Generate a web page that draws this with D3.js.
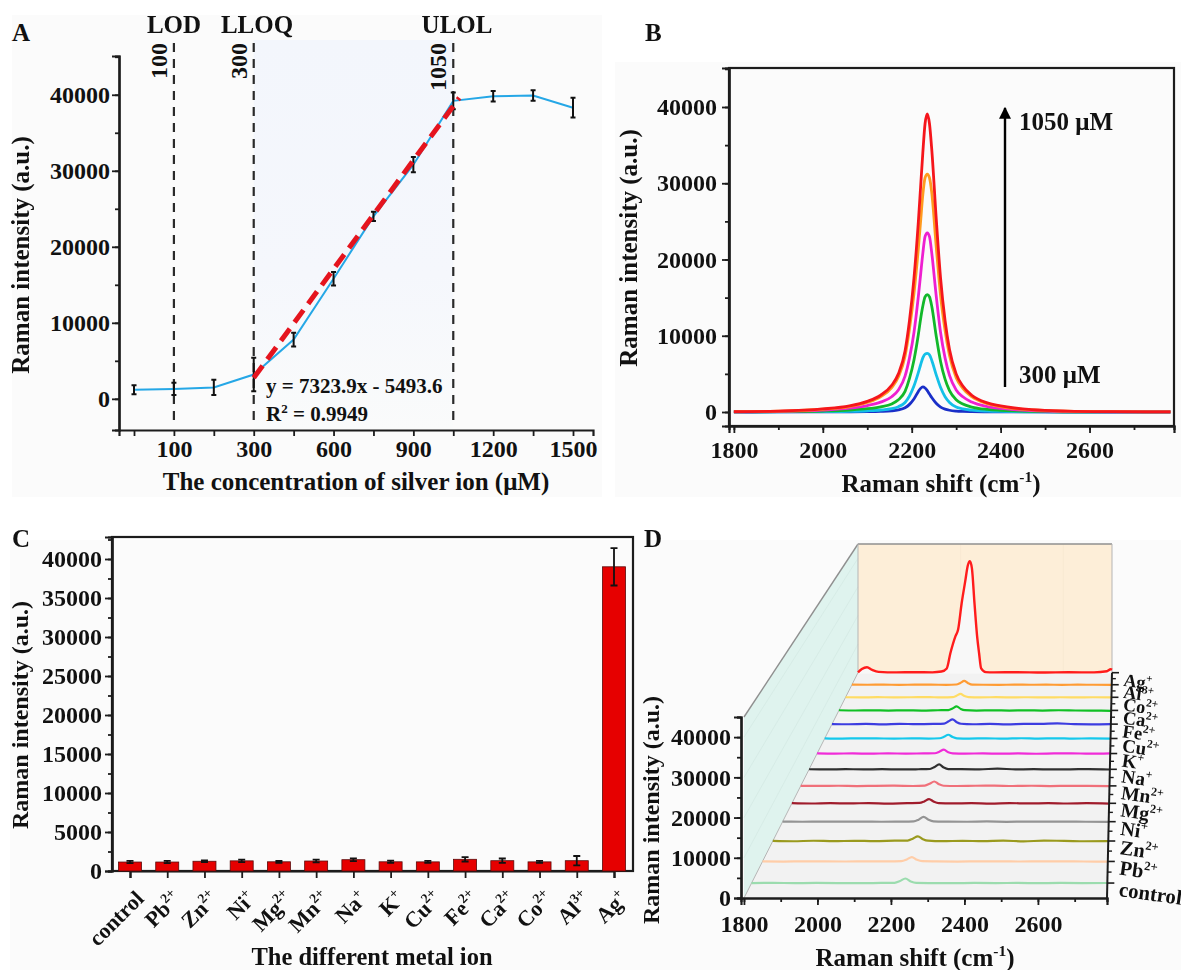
<!DOCTYPE html>
<html><head><meta charset="utf-8">
<script src="https://cdn.jsdelivr.net/npm/d3@7"></script>
<style>
html,body{margin:0;padding:0;background:#fff;overflow:hidden}
svg{display:block;filter:blur(.45px)}
text{font-family:"Liberation Serif",serif;font-weight:700;fill:#111}
</style></head><body>
<svg id="c" width="1181" height="970"></svg>
<script>
// ---------- Panel A data
const concentrations=[50,100,200,300,450,600,750,900,1050,1200,1350,1500];
const intensityA=[1200,1300,1500,3200,7800,15800,24000,30800,39200,39800,39900,38300];
const errorA=[600,800,1000,2200,900,900,600,1000,1100,700,700,1300];
const labelledA=[100,300,600,900,1200,1500];
const limitConc=[100,300,1050];
const limitNames=["LOD","LLOQ","ULOL"];
const fitIndex=[3,8.15];
const fitValue=[2760,39600];
// ---------- Panel B data
const shiftB=[1800,1900,2000,2060,2100,2130,2155,2170,2185,2195,2205,2215,2220,2225,2230,2235,2240,2245,2255,2265,2275,2285,2300,2315,2335,2370,2400,2470,2550,2650,2782];
const b300=[0,5,15,30,50,90,160,280,560,1000,1700,2700,3100,3300,3150,2800,2350,1900,1150,650,380,230,120,70,40,20,10,5,0,0,0];
const b450=[5,15,50,90,160,260,430,700,1250,2100,3400,5200,6200,7100,7600,7700,7500,6800,4900,3200,2000,1250,650,400,240,120,70,25,10,5,0];
const b600=[15,40,130,260,430,680,1050,1600,2700,4400,6800,10200,12200,13900,15100,15400,15100,13900,10000,6600,4300,2800,1600,1050,650,340,220,80,30,10,5];
const b750=[25,80,260,500,850,1300,2000,2900,4700,7100,10400,15200,18000,20800,23000,23500,23000,20900,15300,10400,7100,4800,2900,2000,1300,720,470,180,70,30,10];
const b900=[35,110,360,720,1260,2000,3200,4600,7300,10900,15500,21500,25000,28500,30700,31200,30700,28800,21800,15200,10700,7400,4500,3100,2000,1100,700,270,110,45,15];
const b1050=[40,120,400,800,1400,2200,3500,5000,8000,12000,17500,25000,29500,34000,37800,39100,37800,34500,25500,17500,12000,8200,5000,3400,2200,1200,800,300,120,50,20];
const seriesB=[b300,b450,b600,b750,b900,b1050];
const colorsB=["#1a2fc8","#14c0e8","#12b82a","#ee1fd0","#ff9a1e","#f5161c"];
// ---------- Panel C data
const ions=["control","Pb2+","Zn2+","Ni+","Mg2+","Mn2+","Na+","K+","Cu2+","Fe2+","Ca2+","Co2+","Al3+","Ag+"];
const barValues=[1150,1150,1250,1300,1180,1280,1450,1180,1170,1500,1320,1170,1320,39000];
const barErrors=[150,150,120,170,120,170,180,140,130,280,280,120,600,2400];
// ---------- Panel D data
const shiftD=[1800,1860,1920,1980,2040,2100,2160,2198,2213,2228,2243,2258,2300,2360,2420,2480,2540,2600,2660,2720,2790];
const dControl=[0,40,-20,30,0,-30,30,60,500,1150,400,40,0,-20,30,0,20,-20,30,0,10];
const dPb=[20,-30,30,0,-20,40,0,80,480,1150,420,60,10,-30,20,30,-20,10,20,-20,-30];
const dZn=[30,-60,70,-40,60,-30,80,120,620,1250,500,90,-50,60,-40,90,-70,80,50,-60,-40];
const dNi=[10,-20,20,-10,30,-20,10,80,560,1300,520,100,20,-20,60,-30,20,-10,30,-20,-30];
const dMg=[60,-50,50,-40,70,-60,60,110,520,1180,480,80,-40,50,-60,60,-40,50,-50,40,-90];
const dMn=[30,-20,40,-50,30,60,-30,90,600,1280,480,40,-30,40,70,-30,40,-40,30,-20,-50];
const dNa=[20,-40,30,-20,40,-30,20,100,700,1450,540,60,30,-20,220,-20,30,-30,-10,70,-60];
const dK=[40,-30,50,-50,60,-40,50,90,560,1180,420,70,-30,50,-50,40,-60,30,70,-40,60];
const dCu=[50,-40,60,30,-50,40,-30,80,520,1170,440,60,-40,50,-60,70,-40,60,-50,40,-20];
const dFe=[30,-40,50,-60,100,-30,60,180,850,1500,620,120,-40,70,-60,50,80,260,-30,-50,20];
const dCa=[60,-30,40,-50,30,-40,50,110,640,1320,500,90,-60,40,-50,30,-40,50,-30,-80,-120];
const dCo=[10,-20,30,-20,10,30,-10,60,520,1170,420,50,-20,30,-10,20,-30,10,-20,10,0];
const dAl=[20,-10,20,-30,10,20,-20,80,620,1320,540,60,0,-20,20,-10,20,-20,10,-10,-20];
const shiftAg=[1800,1815,1835,1855,1880,1950,2020,2090,2125,2146,2160,2180,2190,2204,2218,2228,2236,2244,2254,2264,2272,2280,2298,2330,2420,2520,2620,2720,2770,2785,2790];
const dAg=[150,1300,1900,1000,300,100,180,120,400,1500,6800,12800,15000,24300,32000,37500,39000,36500,24300,13000,6800,1500,200,100,180,60,160,100,500,1200,1000];
const seriesD=[dControl,dPb,dZn,dNi,dMg,dMn,dNa,dK,dCu,dFe,dCa,dCo,dAl];
const colorsD=["#9bdcae","#ffcda8","#9a9a1e","#949494","#a01c2c","#f0707a","#303030","#f02cd8","#14c8ec","#3c3ce0","#10c024","#ffdc64","#ff9c34","#ff1c1c"];
const labelsXB=[1800,2000,2200,2400,2600];

const svg=d3.select("#c");
const defs=svg.append("defs");
const INK="#1c1c1c", TICK=24, TITLE=25;

function rich(sel,parts,size){
  sel.text(null);
  let wasSup=false;
  parts.forEach(p=>{
    const sup=Array.isArray(p), s=sup?p[0]:p;
    const t=sel.append("tspan").text(s);
    if(sup) t.attr("font-size",size*.62).attr("dy",-size*.4);
    else if(wasSup) t.attr("dy",size*.4);
    wasSup=sup;
  });
}
function label(x,y,str,size,anchor,rot){
  const t=svg.append("text").attr("font-size",size).attr("text-anchor",anchor||"middle")
    .attr("transform",`translate(${x},${y})`+(rot?` rotate(${rot})`:""));
  if(Array.isArray(str)) rich(t,str,size); else t.text(str);
  return t;
}
function ionParts(n){const m=n.match(/^([A-Za-z]+)(\d?\+)$/);return m?[m[1],[m[2]]]:[n];}
function drawAxis(gen,tx,ty,size){
  const g=svg.append("g").attr("transform",`translate(${tx},${ty})`).call(gen);
  g.selectAll("path").attr("stroke",INK).attr("stroke-width",2.2);
  g.selectAll("line").attr("stroke",INK).attr("stroke-width",1.8);
  g.selectAll("text").attr("font-size",size||TICK).attr("font-family",'"Liberation Serif",serif').attr("fill","#111");
  g.attr("font-family",null).attr("font-size",null);
  return g;
}
function minors(dom,step){const r=[];for(let v=Math.ceil(dom[0]/step)*step;v<=dom[1];v+=step)r.push(v);return r;}

// panel backdrops
[[12,15,590,482],[615,62,566,435],[10,540,632,430],[612,540,569,430]].forEach(r=>
  svg.append("rect").attr("x",r[0]).attr("y",r[1]).attr("width",r[2]).attr("height",r[3]).attr("fill","#fbfbfb"));

// ================= A
const xA=d3.scaleLinear().domain([0,11]).range([134,573]);
const posA=c=>xA(concentrations.indexOf(c));
const yA=d3.scaleLinear().domain([-4100,45100]).range([430,56]);
const grad=defs.append("linearGradient").attr("id","shade").attr("x1",0).attr("x2",0).attr("y1",0).attr("y2",1);
grad.append("stop").attr("offset",0).attr("stop-color","#f3f6fc");
grad.append("stop").attr("offset",.6).attr("stop-color","#f5f7fc");
grad.append("stop").attr("offset",1).attr("stop-color","#fafbfb");
svg.append("rect").attr("x",posA(300)).attr("y",40).attr("width",posA(1050)-posA(300)).attr("height",390).attr("fill","url(#shade)");
drawAxis(d3.axisLeft(yA).tickValues(minors(yA.domain(),5000)).tickSize(4).tickFormat(""),119,0);
drawAxis(d3.axisLeft(yA).tickValues(d3.range(0,40001,10000)).tickSize(7).tickPadding(2).tickFormat(d=>d),119,0);
const xAxisScale=d3.scaleLinear().domain([xA.invert(119),xA.invert(593)]).range([119,593]);
drawAxis(d3.axisBottom(xAxisScale).tickValues(concentrations.map((c,i)=>i)).tickSize(6).tickPadding(4)
  .tickFormat(i=>labelledA.includes(concentrations[i])?concentrations[i]:""),0,430);
limitConc.forEach(c=>svg.append("line").attr("x1",posA(c)).attr("x2",posA(c)).attr("y1",43).attr("y2",424)
  .attr("stroke","#2a2a2a").attr("stroke-width",2.2).attr("stroke-dasharray","9 7"));
svg.append("path").attr("d",d3.line().x((d,i)=>xA(i)).y(d=>yA(d))(intensityA)).attr("fill","none").attr("stroke","#25a7e6").attr("stroke-width",2);
intensityA.forEach((v,i)=>{
  const x=xA(i),t=yA(v+errorA[i]),b=yA(v-errorA[i]);
  svg.append("path").attr("d",`M${x-2.5},${t}H${x+2.5}M${x},${t}V${b}M${x-2.5},${b}H${x+2.5}`).attr("stroke","#111").attr("stroke-width",2).attr("fill","none");
});
svg.append("line").attr("x1",xA(fitIndex[0])).attr("x2",xA(fitIndex[1])).attr("y1",yA(fitValue[0])).attr("y2",yA(fitValue[1]))
  .attr("stroke","#e5141e").attr("stroke-width",5).attr("stroke-dasharray","15 8");
label(12,41,"A",25,"start");
limitNames.forEach((n,i)=>label([174,257,457][i],33,n,25));
limitConc.forEach((c,i)=>label(posA(c)-7,43,String(c),24,"end",-90));
label(22,255,"Raman intensity (a.u.)",TITLE,"middle",-90).attr("dy",7);
label(356,490,"The concentration of silver ion (μM)",25);
label(266,393,"y = 7323.9x - 5493.6",21,"start");
label(266,421,["R",["2"]," = 0.9949"],21,"start");

// ================= B
const xB=d3.scaleLinear().domain([1789,2790]).range([729,1174]);
const yB=d3.scaleLinear().domain([-1836,45115]).range([426,68]);
svg.append("rect").attr("x",729).attr("y",68).attr("width",445).attr("height",358).attr("fill","none").attr("stroke",INK).attr("stroke-width",2.2);
drawAxis(d3.axisLeft(yB).tickValues(minors(yB.domain(),5000)).tickSize(4).tickFormat(""),729,0);
drawAxis(d3.axisLeft(yB).tickValues(d3.range(0,40001,10000)).tickSize(7).tickPadding(5).tickFormat(d=>d),729,0);
drawAxis(d3.axisBottom(xB).tickValues(d3.range(1800,2701,100)).tickSize(4).tickFormat(""),0,426);
drawAxis(d3.axisBottom(xB).tickValues(labelsXB).tickSize(7).tickPadding(8).tickFormat(d=>d),0,426);
const lineB=d3.line().x((d,i)=>xB(shiftB[i])).y(d=>yB(d)).curve(d3.curveMonotoneX);
seriesB.forEach((s,k)=>svg.append("path").attr("d",lineB(s)).attr("fill","none").attr("stroke",colorsB[k]).attr("stroke-width",2.8));
defs.append("marker").attr("id","ah").attr("viewBox","0 0 10 10").attr("refX",9).attr("refY",5)
  .attr("markerWidth",5).attr("markerHeight",5).attr("orient","auto").append("path").attr("d","M0,0L10,5L0,10Z").attr("fill","#000");
svg.append("line").attr("x1",1005).attr("x2",1005).attr("y1",387).attr("y2",108).attr("stroke","#000").attr("stroke-width",2.4).attr("marker-end","url(#ah)");
label(1019,130,"1050 μM",25,"start");
label(1019,383,"300 μM",25,"start");
label(645,41,"B",25,"start");
label(630,248,"Raman intensity (a.u.)",TITLE,"middle",-90).attr("dy",7);
label(941,492,["Raman shift (cm",["-1"],")"],25);

// ================= C
const xC=d3.scalePoint().domain(ions).range([130,614]);
const yC=d3.scaleLinear().domain([0,42820]).range([871,537]);
svg.append("rect").attr("x",112).attr("y",537).attr("width",521).attr("height",334).attr("fill","none").attr("stroke",INK).attr("stroke-width",2.2);
drawAxis(d3.axisLeft(yC).tickValues(minors(yC.domain(),2500)).tickSize(4).tickFormat(""),112,0);
drawAxis(d3.axisLeft(yC).tickValues(d3.range(0,40001,5000)).tickSize(7).tickPadding(3).tickFormat(d=>d),112,0);
drawAxis(d3.axisBottom(xC).tickSize(7).tickFormat(""),0,871);
ions.forEach((n,i)=>{
  const x=xC(n),bw=23;
  svg.append("rect").attr("x",x-bw/2).attr("y",yC(barValues[i])).attr("width",bw).attr("height",yC(0)-yC(barValues[i]))
    .attr("fill","#e60000").attr("stroke","#5a0a0a").attr("stroke-width",.8);
  const t=yC(barValues[i]+barErrors[i]),b=yC(barValues[i]-barErrors[i]);
  svg.append("path").attr("d",`M${x-3.5},${t}H${x+3.5}M${x},${t}V${b}M${x-3.5},${b}H${x+3.5}`).attr("stroke","#111").attr("stroke-width",1.8).attr("fill","none");
  label(x+15,900,ionParts(n),22,"end",-45);
});
label(12,547,"C",25,"start");
label(21,715,"Raman intensity (a.u.)",24,"middle",-90).attr("dy",7);
label(372,965,"The different metal ion",24.5);

// ================= D  (simple perspective box)
const xFront=d3.scaleLinear().domain([1800,2790]).range([744,1107]);
const xBack=d3.scaleLinear().domain([1800,2790]).range([858,1112]);
const yFront=d3.scaleLinear().domain([0,45000]).range([898,717]);
const yBack=d3.scaleLinear().domain([0,45000]).range([672.7,544]);
const persp=t=>t*3.5/(t+2.5);
const depth=i=>persp((i+.66)/13.66);
const mix=d3.interpolateNumber;
const proj=(s,t,v)=>[mix(xFront(s),xBack(s))(t),mix(yFront(v),yBack(v))(t)];
const poly=(pts,fill,stroke)=>svg.append("path").attr("d",d3.line()(pts)+"Z").attr("fill",fill).attr("stroke",stroke||"none").attr("stroke-width",1);
poly([proj(2790,1,0),proj(1800,1,0),proj(1800,0,0),proj(2790,0,0)],"#f2f2f2");
poly([proj(1800,0,0),proj(1800,0,45000),proj(1800,1,45000),proj(1800,1,0)],"#dff3ee");
poly([proj(1800,1,0),proj(1800,1,45000),proj(2790,1,45000),proj(2790,1,0)],"#fdeed8");
// faint wall grid
[10000,20000,30000,40000].forEach(v=>{
  const a=proj(1800,0,v),b=proj(1800,1,v);
  svg.append("line").attr("x1",a[0]).attr("y1",a[1]).attr("x2",b[0]).attr("y2",b[1]).attr("stroke","#d2e8e2").attr("stroke-width",.7);
});
[2200,2600].forEach(s=>{
  const a=proj(s,1,0),b=proj(s,1,45000);
  svg.append("line").attr("x1",a[0]).attr("y1",a[1]).attr("x2",b[0]).attr("y2",b[1]).attr("stroke","#f6e6d0").attr("stroke-width",.7);
});
// under-peak cut-out on the back wall
const ag=shiftAg.map((s,i)=>proj(s,1,dAg[i]));
const curveD=d3.curveMonotoneX;
svg.append("path").attr("d",d3.area().x(d=>d[0]).y0(proj(1800,1,0)[1]+1).y1(d=>d[1]).curve(curveD)(ag)).attr("fill","#f8f8f8");
// box edges
[[proj(1800,0,45000),proj(1800,1,45000)],[proj(1800,1,45000),proj(2790,1,45000)]].forEach(p=>
  svg.append("line").attr("x1",p[0][0]).attr("y1",p[0][1]).attr("x2",p[1][0]).attr("y2",p[1][1]).attr("stroke","#8f8f8f").attr("stroke-width",1.4));
[[proj(1800,0,0),proj(1800,1,0)],[proj(1800,1,0),proj(1800,1,45000)],[proj(2790,1,0),proj(2790,1,45000)]].forEach(p=>
  svg.append("line").attr("x1",p[0][0]).attr("y1",p[0][1]).attr("x2",p[1][0]).attr("y2",p[1][1]).attr("stroke","#b5b5b5").attr("stroke-width",1));
// traces
seriesD.forEach((s,i)=>{
  const t=depth(i);
  svg.append("path").attr("d",d3.line().curve(curveD)(s.map((v,j)=>proj(shiftD[j],t,v)))).attr("fill","none").attr("stroke",colorsD[i]).attr("stroke-width",2.2);
});
svg.append("path").attr("d",d3.line().curve(curveD)(ag)).attr("fill","none").attr("stroke",colorsD[13]).attr("stroke-width",2.4);
// front axes
const xAxisD=d3.scaleLinear().domain([1792,2788]).range([741,1107]);
drawAxis(d3.axisLeft(yFront).tickValues(minors([0,45000],5000)).tickSize(4).tickFormat(""),741,0);
drawAxis(d3.axisLeft(yFront).tickValues(d3.range(0,40001,10000)).tickSize(7).tickPadding(3).tickFormat(d=>d),741,0);
drawAxis(d3.axisBottom(xAxisD).tickValues(d3.range(1800,2701,100)).tickSize(4).tickFormat(""),0,898);
drawAxis(d3.axisBottom(xAxisD).tickValues(labelsXB).tickSize(7).tickPadding(10).tickFormat(d=>d),0,898);
// right depth axis
const ra=proj(2790,0,0),rb=proj(2790,1,0);
svg.append("line").attr("x1",ra[0]).attr("y1",ra[1]).attr("x2",rb[0]).attr("y2",rb[1]).attr("stroke",INK).attr("stroke-width",2);
ions.forEach((n,i)=>{
  const p=proj(2790,depth(i),0);
  svg.append("line").attr("x1",p[0]).attr("y1",p[1]).attr("x2",p[0]+7).attr("y2",p[1]).attr("stroke",INK).attr("stroke-width",1.6);
  if(i<13){const q=proj(2790,depth(i+.5),0);
    svg.append("line").attr("x1",q[0]).attr("y1",q[1]).attr("x2",q[0]+4).attr("y2",q[1]).attr("stroke",INK).attr("stroke-width",1.4);}
  const fs=21-3*depth(i);
  label(p[0]+11,p[1]+13,ionParts(n),fs,"start",8);
});
label(644,547,"D",25,"start");
label(652,810,"Raman intensity (a.u.)",24,"middle",-90).attr("dy",7);
label(915,966,["Raman shift (cm",["-1"],")"],25);
</script>
</body></html>
